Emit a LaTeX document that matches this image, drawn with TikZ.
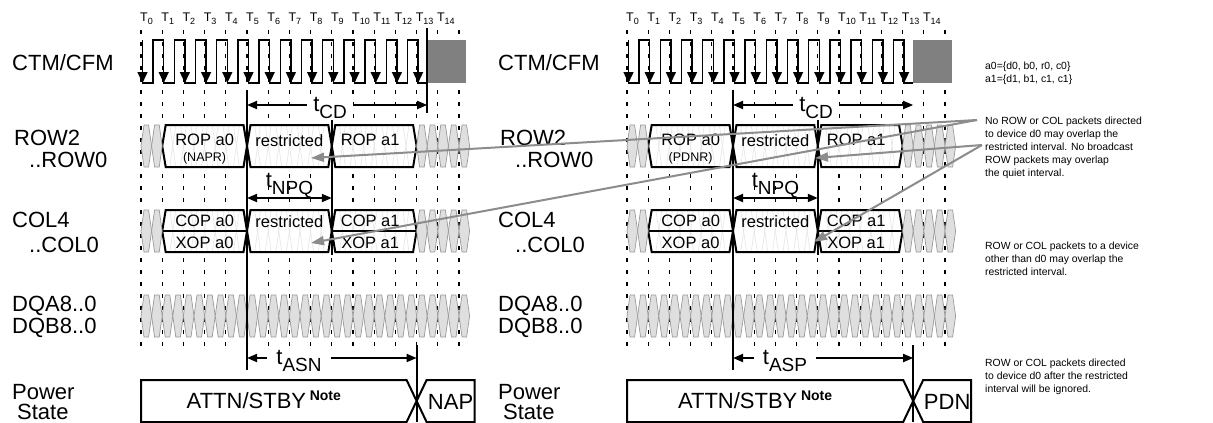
\documentclass[tikz,border=0pt]{standalone}
\usepackage{fontspec}
\setmainfont{Liberation Sans}
\usetikzlibrary{arrows.meta}

\newcommand{\cyc}{21.2}
\newcommand{\tk}[1]{T\raisebox{-3pt}{\fontsize{9}{9}\selectfont #1}}
\newcommand{\tsub}[2]{#1\raisebox{-7pt}{\fontsize{19}{19}\selectfont #2}}

\tikzset{
  tick/.style={line width=1.2pt, dash pattern=on 3.5pt off 8.5pt},
  bar/.style={line width=2pt},
  clk/.style={line width=1.4pt},
  eye/.style={fill=gray!25, draw=gray!80, line width=0.7pt},
  faint/.style={draw=gray!20, line width=0.6pt},
  pkt/.style={line width=2pt, line join=miter},
  dim/.style={line width=1.8pt, {Triangle[length=10pt,width=8pt]}-{Triangle[length=10pt,width=8pt]}},
  ann/.style={draw=gray!90, line width=2pt, -{Triangle[length=13pt,width=9pt]}},
  sig/.style={font=\fontsize{22}{24}\selectfont, anchor=base west, inner sep=0pt},
  tlab/.style={font=\fontsize{12.5}{12.5}\selectfont, anchor=base west, inner sep=0pt},
  ptxt/.style={font=\fontsize{16.5}{17}\selectfont, anchor=base, inner sep=0pt},
  stxt/.style={font=\fontsize{12.5}{13}\selectfont, anchor=base, inner sep=0pt},
  lab/.style={font=\fontsize{22}{24}\selectfont, inner ysep=0pt, inner xsep=6pt},
  txt/.style={font=\fontsize{10.4}{13}\selectfont, anchor=north west, align=left, inner sep=0pt}
}

% row of data eyes: [style] start x, count, top, bottom
\newcommand{\eyes}[5][eye]{%
  \foreach \e in {1,...,#3}{
    \pgfmathsetmacro{\xa}{#2+(\e-1)*\cyc/2}
    \pgfmathsetmacro{\xb}{\xa+\cyc/2}
    \draw[#1] (\xa,{(#4+#5)/2}) -- ({\xa+3},#4) -- ({\xb-3},#4) -- (\xb,{(#4+#5)/2})
      -- ({\xb-3},#5) -- ({\xa+3},#5) -- cycle;
  }}
% packet box: x1, x2, top, bottom
\newcommand{\pkt}[4]{%
  \draw[pkt] (#1,{(#3+#4)/2}) -- ({#1+3.5},#3) -- ({#2-3.5},#3) -- (#2,{(#3+#4)/2})
    -- ({#2-3.5},#4) -- ({#1+3.5},#4) -- cycle;}

\begin{document}
\begin{tikzpicture}[x=1pt,y=-1pt]
\useasboundingbox (0,0) rectangle (1213,423);

\foreach \ox/\pn/\ps/\ts/\ae in {141/NAPR/NAP/ASN/13,627/PDNR/PDN/ASP/13.5}{
  \pgfmathsetmacro{\tOne}{\ox+\cyc}
  \pgfmathsetmacro{\tFive}{\ox+5*\cyc}
  \pgfmathsetmacro{\tNine}{\ox+9*\cyc}
  \pgfmathsetmacro{\tThir}{\ox+13*\cyc}
  \pgfmathsetmacro{\tHalf}{\ox+13.5*\cyc}
  \pgfmathsetmacro{\tAs}{\ox+\ae*\cyc}
  % signal names
  \node[sig] (ctm-\ps) at (\ox-129,70) {CTM/CFM};
  \node[sig] (row-\ps) at (\ox-127,145) {ROW2};
  \node[sig] (rowb-\ps) at (\ox-112,167) {..ROW0};
  \node[sig] (col-\ps) at (\ox-129,227) {COL4};
  \node[sig] (colb-\ps) at (\ox-112,252) {..COL0};
  \node[sig] (dqa-\ps) at (\ox-129,311) {DQA8..0};
  \node[sig] (dqb-\ps) at (\ox-129,333) {DQB8..0};
  \node[sig] (pwr-\ps) at (\ox-129,399) {Power};
  \node[sig] (sta-\ps) at (\ox-124,419) {State};
  % clock edges
  \foreach \k in {0,...,15}
    \draw[tick] ({\ox+\k*\cyc},30) -- ({\ox+\k*\cyc},347);
  \foreach \k in {0,...,14}
    \node[tlab] (T\k-\ps) at ({\ox+\k*\cyc-1},21) {\tk{\k}};
  % CTM/CFM
  \draw[clk] ({\ox+1.5},40) \foreach \k in {0,...,12}{
      -- ({\ox+\k*\cyc+1.5},83) -- ({\ox+(\k+0.5)*\cyc+1.5},83)
      -- ({\ox+(\k+0.5)*\cyc+1.5},40) -- ({\ox+(\k+1)*\cyc+1.5},40)}
    -- ({\ox+13*\cyc+1.5},83) -- (\tHalf,83);
  \foreach \k in {0,...,13}
    \draw[clk, -{Triangle[length=11pt,width=10pt]}] ({\ox+\k*\cyc+1.5},40) -- ({\ox+\k*\cyc+1.5},83);
  \fill[gray] (\tHalf,40) rectangle ({\ox+15*\cyc+7},83);
  % ROW
  \fill[white] (\tOne,124) rectangle (\tThir,168);
  \eyes[faint]{\tOne}{24}{125}{167}
  \pkt{\tOne}{\tFive}{125}{167}
  \pkt{\tFive}{\tNine}{125}{167}
  \pkt{\tNine}{\tThir}{125}{167}
  \eyes{\ox}{2}{125}{167}
  \eyes{\tThir}{5}{125}{167}
  \node[ptxt] (ropa-\ps) at ({(\tOne+\tFive)/2},145) {ROP a0};
  \node[stxt] (pd-\ps) at ({(\tOne+\tFive)/2},161) {(\pn)};
  \node[ptxt] (rrow-\ps) at ({(\tFive+\tNine)/2},146) {restricted};
  \node[ptxt] (ropb-\ps) at ({(\tNine+\tThir)/2-4},145) {ROP a1};
  % COL
  \fill[white] (\tOne,209) rectangle (\tThir,253);
  \eyes[faint]{\tOne}{24}{210}{252}
  \pkt{\tOne}{\tFive}{210}{252}
  \pkt{\tFive}{\tNine}{210}{252}
  \pkt{\tNine}{\tThir}{210}{252}
  \draw[bar] (\tOne,231) -- (\tFive,231) (\tNine,231) -- (\tThir,231);
  \eyes{\ox}{2}{210}{252}
  \eyes{\tThir}{5}{210}{252}
  \node[ptxt] (copa-\ps) at ({(\tOne+\tFive)/2},226) {COP a0};
  \node[ptxt] (xopa-\ps) at ({(\tOne+\tFive)/2},248) {XOP a0};
  \node[ptxt] (rcol-\ps) at ({(\tFive+\tNine)/2},227) {restricted};
  \node[ptxt] (copb-\ps) at ({(\tNine+\tThir)/2-4},226) {COP a1};
  \node[ptxt] (xopb-\ps) at ({(\tNine+\tThir)/2-4},248) {XOP a1};
  % DQ
  \eyes{\ox}{31}{295}{337}
  % timing
  \draw[bar] (\tFive,93) -- (\tFive,370);
  \draw[bar] (\tNine,120) -- (\tNine,255);
  \draw[dim] (\tFive,105) -- (\tHalf,105);
  \node[lab, fill=white] (tcd-\ps) at ({(\tFive+\tHalf)/2-7},108) {\tsub{t}{CD}};
  \draw[dim] (\tFive,198) -- (\tNine,198);
  \node[lab] (tnpq-\ps) at ({(\tFive+\tNine)/2},186) {\tsub{t}{NPQ}};
  \draw[bar] (\tAs,345) -- (\tAs,422);
  \draw[dim] (\tFive,358) -- (\tAs,358);
  \node[lab, fill=white, inner xsep=9pt] (tas-\ps) at ({\tFive+52},361) {\tsub{t}{\ts}};
  % power state
  \draw[bar] (\ox,380) -- ({\tAs-10},380) -- ({\tAs+10},422) -- ({\tAs+58},422)
    -- ({\tAs+58},380) -- ({\tAs+10},380) -- ({\tAs-10},422) -- (\ox,422) -- cycle;
  \node[lab, anchor=base] (attn-\ps) at ({(\ox+\tAs)/2-15},408)
    {ATTN/STBY\,\raisebox{8pt}{\fontsize{14}{14}\selectfont\bfseries Note}};
  \node[lab, anchor=base, inner xsep=0pt] (end-\ps) at ({\tAs+34},409) {\ps};
}
% end of tCD on the NAP side
\draw[bar] (427.2,28) -- (427.2,113);

% notes
\node[txt] (keys) at (985,62) {a0=\{d0, b0, r0, c0\}\\a1=\{d1, b1, c1, c1\}};
\node[txt] (nt1) at (985,117) {No ROW or COL packets directed\\to device d0 may overlap the\\restricted interval. No broadcast\\ROW packets may overlap\\the quiet interval.};
\node[txt] (nt2) at (985,242) {ROW or COL packets to a device\\other than d0 may overlap the\\restricted interval.};
\node[txt] (nt3) at (985,359) {ROW or COL packets directed\\to device d0 after the restricted\\interval will be ignored.};

\coordinate (srcA) at (977,120);
\coordinate (srcB) at (982,145);
\coordinate (rowL) at (311,158);
\coordinate (colL) at (311,243);
\coordinate (rowR) at (815,158);
\coordinate (colR) at (814,242);
\draw[ann] (srcA) -- (rowL);
\draw[ann] (srcA) -- (colL);
\draw[ann] (srcB) -- (rowR);
\draw[ann] (srcB) -- (colR);
\end{tikzpicture}
\end{document}
